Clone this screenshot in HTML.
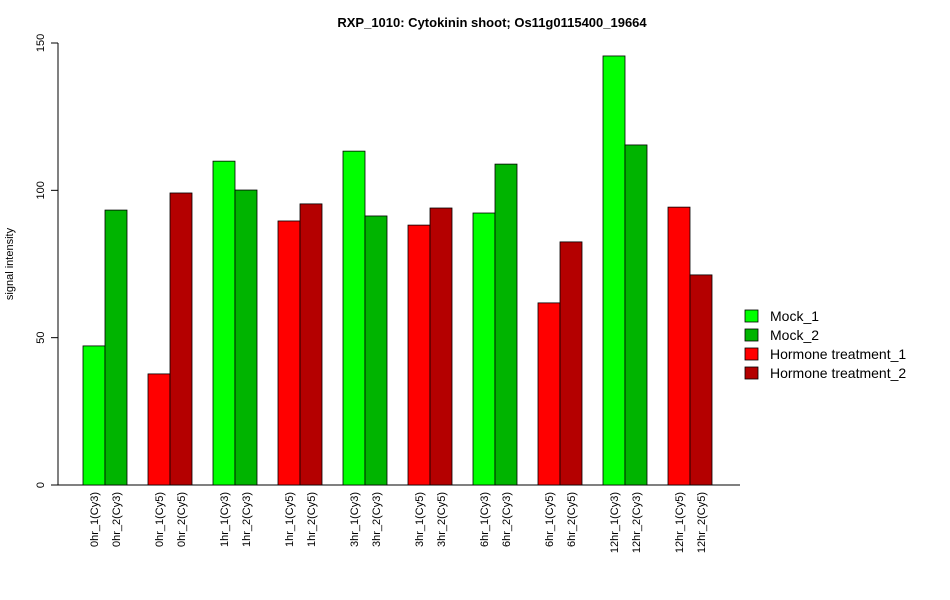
<!DOCTYPE html>
<html><head><meta charset="utf-8"><style>body{margin:0;background:#fff}svg{display:block;font-family:"Liberation Sans",sans-serif}</style></head>
<body>
<svg id="chart" width="950" height="600">
<text x="492" y="27" text-anchor="middle" font-size="13" font-weight="bold">RXP_1010: Cytokinin shoot; Os11g0115400_19664</text>
<text transform="translate(13,264) rotate(-90)" text-anchor="middle" font-size="11">signal intensity</text>
<g id="yaxis"></g>
<g id="bars"></g>
<g id="xlabels"></g>
<g id="legend"></g>
</svg>
<script>
const categories=["0hr_1(Cy3)","0hr_2(Cy3)","0hr_1(Cy5)","0hr_2(Cy5)","1hr_1(Cy3)","1hr_2(Cy3)","1hr_1(Cy5)","1hr_2(Cy5)","3hr_1(Cy3)","3hr_2(Cy3)","3hr_1(Cy5)","3hr_2(Cy5)","6hr_1(Cy3)","6hr_2(Cy3)","6hr_1(Cy5)","6hr_2(Cy5)","12hr_1(Cy3)","12hr_2(Cy3)","12hr_1(Cy5)","12hr_2(Cy5)"];
const values=[47.2,93.3,37.7,99.1,109.9,100.1,89.6,95.4,113.3,91.3,88.2,94,92.3,108.9,61.8,82.5,145.6,115.4,94.3,71.3];
const seriesIdx=[0,1,2,3,0,1,2,3,0,1,2,3,0,1,2,3,0,1,2,3];
const seriesNames=["Mock_1","Mock_2","Hormone treatment_1","Hormone treatment_2"];
const colors=["#00ff00","#00b400","#ff0000","#b40000"];
const yTicks=[0,50,100,150];
const NS="http://www.w3.org/2000/svg";
function mk(t,a,p){const e=document.createElementNS(NS,t);for(const k in a)e.setAttribute(k,a[k]);p.appendChild(e);return e;}
const y=v=>485-v*442/150;
const x=i=>83+Math.floor(i/2)*65+(i%2)*22;
const ya=document.getElementById('yaxis');
mk('line',{x1:58,x2:58,y1:y(0),y2:y(150),stroke:'#000'},ya);
mk('line',{x1:58,x2:740,y1:485,y2:485,stroke:'#000'},ya);
yTicks.forEach(t=>{
 const l=mk('line',{x1:51,x2:58,y1:y(t),y2:y(t),stroke:'#000'},ya);
 
 
 const tx=mk('text',{transform:`translate(44,${y(t)}) rotate(-90)`,'text-anchor':'middle','font-size':11},ya);
 tx.textContent=t;
 
 
});
const bg=document.getElementById('bars'),xl=document.getElementById('xlabels');
values.forEach((v,i)=>{
 const r=mk('rect',{x:x(i),y:y(v),width:22,height:485-y(v),fill:colors[seriesIdx[i]],stroke:'#000','stroke-width':0.8},bg);
 
 
 const t=mk('text',{transform:`translate(${x(i)+15},492) rotate(-90)`,'text-anchor':'end','font-size':11},xl);
 t.textContent=categories[i];
 
 
});
const lg=document.getElementById('legend');
seriesNames.forEach((n,i)=>{
 const yy=316+i*19;
 const r=mk('rect',{x:745,y:yy-6,width:13,height:12,fill:colors[i],stroke:'#000','stroke-width':0.8},lg);
 
 
 const t=mk('text',{x:770,y:yy+5,'font-size':14},lg);
 t.textContent=n;
 
 
});
</script>
</body></html>
